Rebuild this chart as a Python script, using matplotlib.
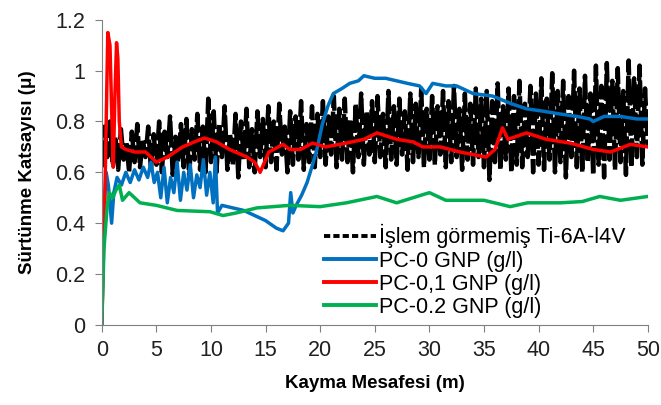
import numpy as np
import matplotlib
matplotlib.use('Agg')
import matplotlib.pyplot as plt
from matplotlib.lines import Line2D
from matplotlib.ticker import FuncFormatter

plt.rcParams['font.family'] = ['Liberation Sans', 'DejaVu Sans']

black_x = np.arange(0, 50.001, 0.25)
black_y = [
    0.62, 0.78, 0.66, 0.80, 0.63, 0.74, 0.61, 0.77, 0.65, 0.72, 0.60, 0.76, 0.64, 0.79, 0.62, 0.73, 0.66, 0.78, 0.61, 0.75,
    0.63, 0.80, 0.60, 0.76, 0.66, 0.82, 0.59, 0.74, 0.64, 0.79, 0.62, 0.81, 0.58, 0.77, 0.65, 0.83, 0.61, 0.78, 0.60, 0.89,
    0.64, 0.84, 0.60, 0.79, 0.66, 0.86, 0.61, 0.75, 0.63, 0.83, 0.58, 0.80, 0.65, 0.85, 0.62, 0.77, 0.60, 0.84, 0.66, 0.81,
    0.62, 0.86, 0.64, 0.80, 0.61, 0.87, 0.67, 0.78, 0.60, 0.84, 0.63, 0.82, 0.65, 0.88, 0.61, 0.79, 0.64, 0.86, 0.62, 0.83,
    0.66, 0.88, 0.63, 0.82, 0.67, 0.90, 0.62, 0.85, 0.65, 0.89, 0.64, 0.81, 0.60, 0.87, 0.66, 0.91, 0.63, 0.84, 0.67, 0.88,
    0.64, 0.90, 0.66, 0.83, 0.62, 0.92, 0.65, 0.86, 0.63, 0.89, 0.67, 0.84, 0.61, 0.91, 0.64, 0.87, 0.66, 0.93, 0.62, 0.85,
    0.65, 0.90, 0.63, 0.86, 0.67, 0.92, 0.62, 0.88, 0.64, 0.94, 0.66, 0.85, 0.61, 0.91, 0.65, 0.87, 0.63, 0.93, 0.66, 0.89,
    0.62, 0.92, 0.57, 0.88, 0.64, 0.95, 0.61, 0.86, 0.65, 0.93, 0.60, 0.90, 0.63, 0.96, 0.62, 0.87, 0.66, 0.94, 0.60, 0.91,
    0.63, 0.97, 0.61, 0.89, 0.65, 0.99, 0.60, 0.92, 0.64, 0.96, 0.58, 0.90, 0.66, 1.00, 0.62, 0.93, 0.60, 0.98, 0.64, 0.91,
    0.59, 1.02, 0.63, 0.94, 0.58, 1.03, 0.65, 0.96, 0.61, 1.01, 0.64, 0.92, 0.59, 1.04, 0.62, 0.97, 0.66, 1.02, 0.63, 0.93,
    0.70,
]

# PC-0 GNP
blue_x = [0, 0.2, 0.4, 0.6, 0.9, 1.1, 1.4, 1.8, 2.2, 2.6, 3.0, 3.4, 3.8, 4.2, 4.5, 4.8, 5.1, 5.4, 5.7, 6.0,
          6.3, 6.6, 6.9, 7.2, 7.5, 7.8, 8.1, 8.4, 8.7, 9.0, 9.3, 9.6, 9.9, 10.2, 10.4, 10.6, 11.0, 12.0, 13.0, 14.0,
          15.0, 16.0, 16.6, 17.1, 17.3, 17.5, 17.8, 18.3, 18.8, 19.3, 19.7, 20.2, 20.7, 21.2, 22.0, 22.7, 23.5, 24.0, 25.0, 26.0,
          27.0, 28.0, 29.1, 29.7, 30.3, 31.5, 32.5, 34.0, 35.8, 37.5, 38.9, 40.5, 41.9, 43.5, 44.7, 45.0, 46.0, 47.5, 49.0, 50.0]
blue_y = [0.0, 0.45, 0.60, 0.55, 0.40, 0.52, 0.58, 0.55, 0.60, 0.56, 0.61, 0.57, 0.62, 0.58, 0.64, 0.56, 0.60, 0.50, 0.62, 0.48,
          0.58, 0.52, 0.64, 0.49, 0.60, 0.53, 0.63, 0.50, 0.59, 0.54, 0.65, 0.51, 0.60, 0.48, 0.66, 0.44, 0.47, 0.46, 0.45, 0.43,
          0.41, 0.38, 0.37, 0.40, 0.52, 0.44, 0.47, 0.51, 0.56, 0.63, 0.69, 0.79, 0.86, 0.91, 0.93, 0.95, 0.96, 0.98, 0.97, 0.97,
          0.96, 0.95, 0.94, 0.91, 0.95, 0.94, 0.94, 0.91, 0.90, 0.87, 0.85, 0.84, 0.83, 0.82, 0.81, 0.80, 0.82, 0.82, 0.81, 0.81]

# PC-0,1 GNP
red_x = [0, 0.3, 0.55, 0.75, 0.9, 1.05, 1.2, 1.35, 1.47, 1.6, 1.8, 2.2, 3.0, 4.0, 5.0, 6.0, 7.4, 8.5, 9.4, 10.5,
         11.7, 13.3, 14.0, 14.5, 15.3, 16.6, 17.2, 18.2, 19.3, 20.5, 22.4, 24.0, 25.2, 27.0, 28.5, 29.4, 31.0, 32.8, 34.0, 35.2,
         36.0, 36.7, 37.2, 38.9, 40.7, 42.9, 45.0, 46.6, 48.4, 50.0]
red_y = [0.0, 0.55, 1.15, 1.10, 0.85, 0.62, 0.90, 1.11, 1.05, 0.80, 0.70, 0.69, 0.68, 0.68, 0.64, 0.66, 0.70, 0.72, 0.735, 0.72,
         0.69, 0.66, 0.64, 0.60, 0.68, 0.71, 0.69, 0.69, 0.715, 0.70, 0.715, 0.73, 0.755, 0.73, 0.72, 0.70, 0.70, 0.68, 0.67, 0.66,
         0.69, 0.775, 0.73, 0.755, 0.73, 0.715, 0.69, 0.68, 0.71, 0.70]

# PC-0.2 GNP
green_x = [0, 0.2, 0.5, 0.7, 1.0, 1.3, 1.6, 1.9, 2.5, 3.5, 5.0, 6.9, 9.9, 11.1, 12.3, 14.2, 17.2, 20.0, 22.4, 25.2,
           27.0, 30.0, 31.5, 33.0, 35.0, 37.4, 39.0, 42.0, 44.0, 45.6, 47.5, 50.0]
green_y = [0.0, 0.30, 0.47, 0.52, 0.50, 0.53, 0.55, 0.49, 0.52, 0.48, 0.47, 0.45, 0.445, 0.43, 0.44, 0.46, 0.47, 0.465, 0.48, 0.505,
           0.48, 0.52, 0.49, 0.49, 0.49, 0.465, 0.48, 0.48, 0.485, 0.505, 0.49, 0.505]

labels = ['İşlem görmemiş Ti-6A-l4V', 'PC-0 GNP (g/l)', 'PC-0,1 GNP (g/l)', 'PC-0.2 GNP (g/l)']
colors = ['black', '#0070C0', '#FF0000', '#00B050']

fig = plt.figure(figsize=(6.61, 4.05), dpi=100)
ax = fig.add_axes([0.154, 0.198, 0.826, 0.753])

ax.plot(black_x, black_y, color=colors[0], lw=3.2, ls=(0, (6, 0.8)))
ax.plot(blue_x, blue_y, color=colors[1], lw=2.5)
ax.plot(red_x, red_y, color=colors[2], lw=2.5)
ax.plot(green_x, green_y, color=colors[3], lw=2.5)

ax.set_xlim(0, 50)
ax.set_ylim(0, 1.2)
ax.set_xticks(range(0, 51, 5))
ax.set_yticks([0, 0.2, 0.4, 0.6, 0.8, 1.0, 1.2])
ax.yaxis.set_major_formatter(FuncFormatter(lambda v, p: '%g' % v))

for s in ['top', 'right']:
    ax.spines[s].set_visible(False)
for s in ['left', 'bottom']:
    ax.spines[s].set_color('#808080')
ax.tick_params(direction='out', length=5, color='#808080', labelsize=15.5, labelcolor='#202020')
ax.tick_params(axis='y', pad=7)
ax.tick_params(axis='x', pad=6)

ax.set_xlabel('Kayma Mesafesi (m)', fontsize=13.5, fontweight='bold', labelpad=10)
ax.set_ylabel('Sürtünme Katsayısı (μ)', fontsize=13.5, fontweight='bold', labelpad=14)

handles = [Line2D([], [], color=colors[0], lw=2.8, ls=(0, (1.6, 0.8)))] + \
          [Line2D([], [], color=c, lw=2.8) for c in colors[1:]]
ax.legend(handles, labels, loc='lower left', bbox_to_anchor=(0.49, 0.215), bbox_transform=fig.transFigure,
          frameon=False, fontsize=15.5, handlelength=2.4, handletextpad=0.15, labelspacing=0.1,
          borderpad=0, borderaxespad=0)

fig.savefig('out.png', dpi=100)
